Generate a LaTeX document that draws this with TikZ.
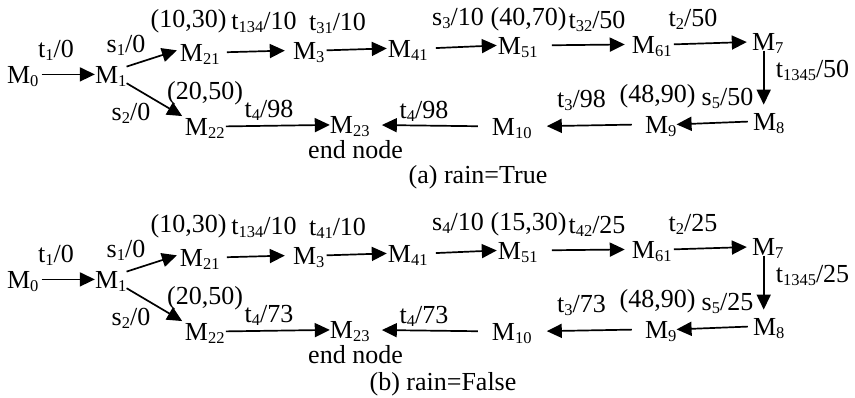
\documentclass[tikz,border=0pt]{standalone}
\usepackage{fontspec}
\setmainfont{Liberation Serif}
\usetikzlibrary{arrows.meta}
\newcommand\sbs[1]{\raisebox{-3pt}{\fontsize{16.5}{17}\selectfont #1}}
\newcommand\drawpanel[6]{%
\begin{scope}[yshift=#6]
\node[mnode] (#1m0) at (22.7,83) {M\sbs{0}};
\node[mnode] (#1m1) at (110.7,83) {M\sbs{1}};
\node[mnode] (#1m21) at (199.8,61) {M\sbs{21}};
\node[mnode] (#1m3) at (308.7,59) {M\sbs{3}};
\node[mnode] (#1m41) at (407.8,57) {M\sbs{41}};
\node[mnode] (#1m51) at (517.8,54) {M\sbs{51}};
\node[mnode] (#1m61) at (651.8,53) {M\sbs{61}};
\node[mnode] (#1m7) at (767.7,50.5) {M\sbs{7}};
\node[mnode] (#1m8) at (768.7,130) {M\sbs{8}};
\node[mnode] (#1m9) at (660.7,133) {M\sbs{9}};
\node[mnode] (#1m10) at (511.8,135) {M\sbs{10}};
\node[mnode] (#1m23) at (349.8,133.5) {M\sbs{23}};
\node[mnode] (#1m22) at (204.8,135) {M\sbs{22}};
\node[lbl] (#1l1) at (56,57) {t\sbs{1}/0};
\node[lbl] (#1l2) at (126,52) {s\sbs{1}/0};
\node[lbl] (#1l3) at (188.5,27) {(10,30)};
\node[lbl] (#1l4) at (264,29) {t\sbs{134}/10};
\node[lbl] (#1l5) at (337.5,30) {t\sbs{#21}/10};
\node[lbl] (#1l6) at (458,25) {s\sbs{#2}/10};
\node[lbl] (#1l7) at (528.5,25) {#3};
\node[lbl] (#1l8) at (597,28) {t\sbs{#22}/#4};
\node[lbl] (#1l9) at (693,26) {t\sbs{2}/#4};
\node[lbl] (#1l10) at (812.5,77) {t\sbs{1345}/#4};
\node[lbl] (#1l11) at (727.5,105) {s\sbs{5}/#4};
\node[lbl] (#1l12) at (657.5,102) {(48,90)};
\node[lbl] (#1l13) at (581.5,107) {t\sbs{3}/#5};
\node[lbl] (#1l14) at (424,118) {t\sbs{4}/#5};
\node[lbl] (#1l15) at (355.5,158) {end node};
\node[lbl] (#1l17) at (205,99) {(20,50)};
\node[lbl] (#1l18) at (269,117) {t\sbs{4}/#5};
\node[lbl] (#1l19) at (131,120) {s\sbs{2}/0};
\draw[arr, shorten <=3pt] (#1m0.east) -- (#1m1.west);
\draw[arr, shorten >=3pt] ([yshift=-1pt]#1m1.north east) -- ([yshift=3pt]#1m21.west);
\draw[arr, shorten >=3pt] (#1m1.south east) -- (#1m22.north west);
\draw[arr, shorten <=7pt, shorten >=8pt] (#1m21.east) -- (#1m3.west);
\draw[arr, shorten <=2pt, shorten >=1pt] (#1m3.east) -- (#1m41.west);
\draw[arr, shorten <=8pt, shorten >=1pt] (#1m41.east) -- (#1m51.west);
\draw[arr, shorten <=14pt, shorten >=7pt] (#1m51.east) -- (#1m61.west);
\draw[arr, shorten <=2pt, shorten >=5pt] (#1m61.east) -- (#1m7.west);
\draw[arr, shorten >=8pt] ([xshift=-4pt]#1m7.south) -- ([xshift=-5pt]#1m8.north);
\draw[arr, shorten <=5pt] (#1m8.west) -- (#1m9.east);
\draw[arr, shorten <=13pt, shorten >=15pt] (#1m9.west) -- (#1m10.east);
\draw[arr, shorten <=14pt, shorten >=12pt] (#1m10.west) -- (#1m23.east);
\draw[arr, shorten <=1pt] (#1m22.east) -- (#1m23.west);
\end{scope}}
\begin{document}
\begin{tikzpicture}[x=1pt,y=-1pt,
  every node/.style={inner sep=0pt, font=\fontsize{26}{30}\selectfont},
  mnode/.style={text height=17.2pt, text depth=0pt, anchor=base},
  lbl/.style={anchor=base},
  arr/.style={line width=1.7pt, -{Triangle[length=15pt,width=14pt]}}]
\useasboundingbox (0,0) rectangle (855,397);
\drawpanel{a}{3}{(40,70)}{50}{98}{0pt}
\drawpanel{b}{4}{(15,30)}{25}{73}{-205pt}
\node[lbl] (capa) at (478,183) {(a) rain=True};
\node[lbl] (capb) at (443,390) {(b) rain=False};
\end{tikzpicture}
\end{document}
